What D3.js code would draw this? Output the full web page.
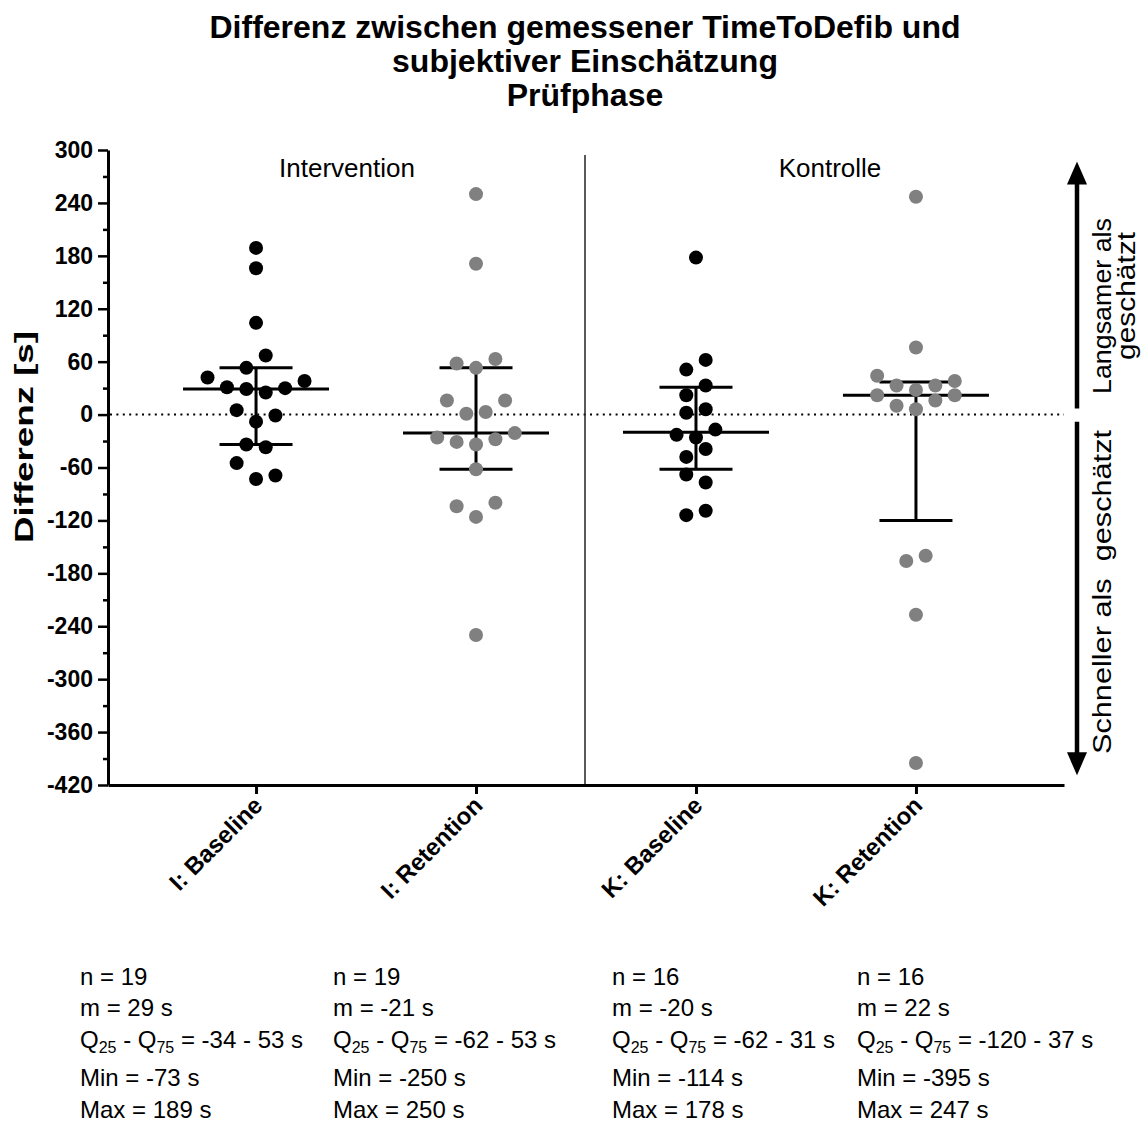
<!DOCTYPE html>
<html>
<head>
<meta charset="utf-8">
<script src="https://cdn.jsdelivr.net/npm/d3@7"></script>
<style>
  body { margin: 0; background: #fff; }
  svg { font-family: "Liberation Sans", Arial, sans-serif; }
</style>
</head>
<body>
<div id="chart"></div>
<script>
// categories and values (seconds)
const groups = ["I: Baseline", "I: Retention", "K: Baseline", "K: Retention"];
const iBaseline = [-73, -69, -55, -37, -34, -8, -1, 5, 25, 29, 30, 31, 38, 42, 67, 53, 104, 166, 189];
const iRetention = [-250, -116, -100, -104, -62, -34, -28, -31, -21, -26, 3, 1, 16, 16, 53, 63, 58, 171, 250];
const kBaseline = [-109, -114, -77, -68, -39, -48, -26, -17, -23, 6, 2, 33, 22, 62, 51, 178];
const kRetention = [-395, -227, -160, -166, 6, 16, 10, 22, 22, 28, 33, 33, 38, 44, 76, 247];
const medians = [29, -21, -20, 22];
const q25 = [-34, -62, -62, -120];
const q75 = [53, 53, 31, 37];
const nVals = [19, 19, 16, 16];
const minVals = [-73, -250, -114, -395];
const maxVals = [189, 250, 178, 247];
const yTicks = d3.range(-420, 301, 60);

const series = [iBaseline, iRetention, kBaseline, kRetention];
const dotFill = ["#000", "#808080", "#000", "#808080"];

const width = 1148, height = 1124;
const margin = { top: 150, bottom: 339, left: 108, right: 84 };

const svg = d3.select("#chart").append("svg")
  .attr("width", width)
  .attr("height", height);

const x = d3.scalePoint()
  .domain(groups)
  .range([margin.left, width - margin.right])
  .padding(0.673);

const y = d3.scaleLinear()
  .domain([-420, 300])
  .range([height - margin.bottom, margin.top]);

// title
const title = ["Differenz zwischen gemessener TimeToDefib und", "subjektiver Einschätzung", "Prüfphase"];
svg.append("g").selectAll("text")
  .data(title)
  .join("text")
  .attr("x", 585)
  .attr("y", (d, i) => 38 + i * 34)
  .attr("text-anchor", "middle")
  .attr("font-size", 32)
  .attr("font-weight", "bold")
  .text(d => d);

// zero line
svg.append("line")
  .attr("x1", margin.left + 2).attr("x2", width - margin.right)
  .attr("y1", y(0)).attr("y2", y(0))
  .attr("stroke", "#000")
  .attr("stroke-width", 2)
  .attr("stroke-dasharray", "2 4.4");

// separator between Intervention and Kontrolle
const sepX = (x(groups[1]) + x(groups[2])) / 2 - 1;
svg.append("line")
  .attr("x1", sepX).attr("x2", sepX)
  .attr("y1", 155).attr("y2", y(-420))
  .attr("stroke", "#222")
  .attr("stroke-width", 1.5);

svg.append("text").attr("x", 347).attr("y", 177)
  .attr("text-anchor", "middle").attr("font-size", 26).text("Intervention");
svg.append("text").attr("x", 830).attr("y", 177)
  .attr("text-anchor", "middle").attr("font-size", 26).text("Kontrolle");

// y axis
const yAxis = svg.append("g")
  .attr("transform", `translate(${margin.left},0)`)
  .call(d3.axisLeft(y).tickValues(yTicks).tickSize(10).tickPadding(5).tickSizeOuter(0)
    .tickFormat(d => String(d)));
yAxis.select(".domain").attr("stroke-width", 3);
yAxis.selectAll(".tick line").attr("stroke-width", 2.5);
yAxis.selectAll(".tick text")
  .attr("font-size", 23).attr("font-weight", "bold")
  .attr("font-family", "Liberation Sans, Arial, sans-serif").attr("fill", "#000");

svg.append("g")
  .attr("transform", `translate(${margin.left},0)`)
  .call(d3.axisLeft(y).tickValues(yTicks.slice(0, -1).map(v => v + 30)).tickSize(5).tickFormat(""))
  .call(g => g.select(".domain").remove())
  .selectAll(".tick line").attr("stroke-width", 2.5);

svg.append("text")
  .attr("transform", `translate(33,437) rotate(-90)`)
  .attr("text-anchor", "middle")
  .attr("font-size", 26)
  .attr("font-weight", "bold")
  .attr("textLength", 212)
  .attr("lengthAdjust", "spacingAndGlyphs")
  .text("Differenz [s]");

// x axis
const xAxis = svg.append("g")
  .attr("transform", `translate(0,${y(-420)})`)
  .call(d3.axisBottom(x).tickSize(9).tickSizeOuter(0).tickFormat(""));
xAxis.select(".domain").attr("stroke-width", 3);
xAxis.selectAll(".tick line").attr("stroke-width", 3);

svg.append("g").selectAll("text")
  .data(groups)
  .join("text")
  .attr("transform", d => `translate(${x(d) + 8},${y(-420) + 22}) rotate(-45)`)
  .attr("text-anchor", "end")
  .attr("font-size", 24)
  .attr("font-weight", "bold")
  .text(d => d);

// scatter layout: points grouped in value bins, spread side by side
function swarm(values, binSize) {
  const idx = d3.range(values.length).sort((a, b) => values[a] - values[b] || a - b);
  const bins = [];
  let cur = null;
  idx.forEach(i => {
    if (!cur || values[i] - values[cur[0]] > binSize) { cur = [i]; bins.push(cur); }
    else cur.push(i);
  });
  const slot = new Array(values.length);
  bins.forEach(b => {
    b.sort((a, c) => a - c);
    const k = b.length;
    b.forEach((i, j) => {
      slot[i] = k % 2
        ? (j === 0 ? 0 : Math.ceil(j / 2) * (j % 2 ? 1 : -1))
        : (Math.floor(j / 2) + 0.5) * (j % 2 ? -1 : 1);
    });
  });
  return slot;
}

const step = 19.4;
const medW = 73, qW = 36.5;

groups.forEach((g, gi) => {
  const cx = x(g);
  const eb = svg.append("g").attr("stroke", "#000").attr("stroke-width", 3);
  eb.append("line").attr("x1", cx).attr("x2", cx).attr("y1", y(q25[gi])).attr("y2", y(q75[gi]));
  eb.append("line").attr("x1", cx - medW).attr("x2", cx + medW).attr("y1", y(medians[gi])).attr("y2", y(medians[gi]));
  [q25[gi], q75[gi]].forEach(q => {
    eb.append("line").attr("x1", cx - qW).attr("x2", cx + qW).attr("y1", y(q)).attr("y2", y(q));
  });

  const vals = series[gi];
  const slots = swarm(vals, 19.5);
  svg.append("g").selectAll("circle")
    .data(vals)
    .join("circle")
    .attr("cx", (d, i) => cx + slots[i] * step)
    .attr("cy", d => y(d))
    .attr("r", 7)
    .attr("fill", dotFill[gi]);
});

// direction arrows on the right
const ax = 1077;
function arrow(from, to) {
  const y0 = y(from), tip = y(to);
  const dir = tip < y0 ? -1 : 1;
  svg.append("line")
    .attr("x1", ax).attr("x2", ax)
    .attr("y1", y0).attr("y2", tip - dir * 20)
    .attr("stroke", "#000").attr("stroke-width", 4.5);
  svg.append("path")
    .attr("d", `M${ax},${tip} L${ax - 10},${tip - dir * 23} L${ax + 10},${tip - dir * 23} Z`)
    .attr("fill", "#000");
}
arrow(7, 287);
arrow(-8, -409);

const side = svg.append("g").attr("font-size", 25);
side.append("text")
  .attr("transform", `translate(1111,306) rotate(-90)`)
  .attr("text-anchor", "middle")
  .attr("textLength", 176)
  .attr("lengthAdjust", "spacingAndGlyphs")
  .text("Langsamer als");
side.append("text")
  .attr("transform", `translate(1135,296) rotate(-90)`)
  .attr("text-anchor", "middle")
  .attr("textLength", 128)
  .attr("lengthAdjust", "spacingAndGlyphs")
  .text("geschätzt");
side.append("text")
  .attr("transform", `translate(1111,592) rotate(-90)`)
  .attr("text-anchor", "middle")
  .attr("xml:space", "preserve")
  .attr("textLength", 324)
  .attr("lengthAdjust", "spacingAndGlyphs")
  .text("Schneller als  geschätzt");

// statistics below the chart
const colX = [80, 333, 612, 857];
const lineY = [985, 1016, 1048, 1086, 1118];
groups.forEach((g, gi) => {
  const t = svg.append("g").attr("font-size", 24).attr("transform", `translate(${colX[gi]},0)`);
  t.append("text").attr("y", lineY[0]).text(`n = ${nVals[gi]}`);
  t.append("text").attr("y", lineY[1]).text(`m = ${medians[gi]} s`);
  const q = t.append("text").attr("y", lineY[2]);
  q.append("tspan").text("Q");
  q.append("tspan").attr("font-size", 16).attr("dy", 5).text("25");
  q.append("tspan").attr("dy", -5).text(" - Q");
  q.append("tspan").attr("font-size", 16).attr("dy", 5).text("75");
  q.append("tspan").attr("dy", -5).text(` = ${q25[gi]} - ${q75[gi]} s`);
  t.append("text").attr("y", lineY[3]).text(`Min = ${minVals[gi]} s`);
  t.append("text").attr("y", lineY[4]).text(`Max = ${maxVals[gi]} s`);
});
</script>
</body>
</html>
